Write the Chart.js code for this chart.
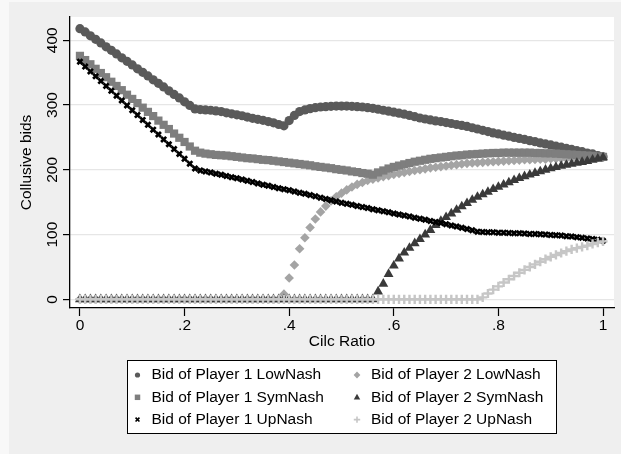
<!DOCTYPE html>
<html>
<head>
<meta charset="utf-8">
<script src="https://cdn.jsdelivr.net/npm/chart.js@4.4.1/dist/chart.umd.min.js"></script>
<style>
  body { margin: 0; background: #f8f8f8; }
  canvas { display: block; }
</style>
</head>
<body>
<canvas id="chart" width="621" height="454"></canvas>
<script>
// cilc ratio on the x axis
const ratio = [0, 0.01, 0.02, 0.03, 0.04, 0.05, 0.06, 0.07, 0.08, 0.09,
  0.1, 0.11, 0.12, 0.13, 0.14, 0.15, 0.16, 0.17, 0.18, 0.19,
  0.2, 0.21, 0.22, 0.23, 0.24, 0.25, 0.26, 0.27, 0.28, 0.29,
  0.3, 0.31, 0.32, 0.33, 0.34, 0.35, 0.36, 0.37, 0.38, 0.39,
  0.4, 0.41, 0.42, 0.43, 0.44, 0.45, 0.46, 0.47, 0.48, 0.49,
  0.5, 0.51, 0.52, 0.53, 0.54, 0.55, 0.56, 0.57, 0.58, 0.59,
  0.6, 0.61, 0.62, 0.63, 0.64, 0.65, 0.66, 0.67, 0.68, 0.69,
  0.7, 0.71, 0.72, 0.73, 0.74, 0.75, 0.76, 0.77, 0.78, 0.79,
  0.8, 0.81, 0.82, 0.83, 0.84, 0.85, 0.86, 0.87, 0.88, 0.89,
  0.9, 0.91, 0.92, 0.93, 0.94, 0.95, 0.96, 0.97, 0.98, 0.99, 1];

const p1Low = [418, 413, 407, 401.5, 396, 390, 384.5, 379, 373, 367.5,
  362, 356, 350.5, 345, 339, 333.5, 328, 322, 316.5, 311,
  305, 299.5, 294, 293, 292.5, 292, 291, 290, 288, 286.5,
  285, 283.5, 281.5, 279.5, 278, 276.5, 274.5, 272.5, 270, 268,
  276, 284, 290, 292.5, 294.5, 296, 297, 297.5, 298, 298.5,
  298.5, 298.5, 298, 297.5, 297, 296, 295, 293.5, 292, 290.5,
  289, 287.5, 286, 284, 282, 280, 278.5, 277, 275.5, 274.5,
  273, 271.5, 270, 268.5, 267, 265, 263, 261, 259, 257,
  255.5, 253.5, 252, 250, 248.5, 247, 245, 243.5, 241.5, 240,
  238.5, 236.5, 235, 233, 231.5, 229.5, 228, 226, 224.5, 222, 220];

const p2Low = [0, 0, 0, 0, 0, 0, 0, 0, 0, 0,
  0, 0, 0, 0, 0, 0, 0, 0, 0, 0,
  0, 0, 0, 0, 0, 0, 0, 0, 0, 0,
  0, 0, 0, 0, 0, 0, 0, 0, 0, 8,
  33, 53, 78, 95, 111, 124, 135, 144, 152, 158.5,
  164, 169, 173.5, 177.5, 180.5, 183.5, 185.5, 187.5, 189.5, 191,
  193, 194.5, 196, 197.5, 199, 200, 201.5, 203, 204, 205,
  206, 207, 208, 209, 210, 210.5, 211, 211.5, 212, 212.5,
  213, 213.5, 214, 214.5, 215, 215.5, 215.5, 216, 216.5, 216.5,
  217, 217, 217.5, 217.5, 218, 218, 218.5, 218.5, 219, 219, 219.5];

const p1Sym = [376, 369.5, 363, 356, 349.5, 343, 336, 329.5, 323, 316,
  309.5, 303, 296, 289.5, 283, 276, 269.5, 263, 256, 249.5,
  243, 236, 229.5, 226.5, 225, 224, 223, 222.5, 222, 221,
  220, 219, 218, 217.5, 216.5, 215.5, 215, 214, 213, 212,
  211, 210, 209, 208, 207, 205.5, 204.5, 203.5, 202.5, 201,
  200, 199, 197.5, 196.5, 195, 194, 192.5, 196, 199, 202,
  204.5, 206.5, 208.5, 210.5, 212.5, 214, 215.5, 217, 218, 219,
  220, 221, 222, 222.5, 223.5, 224, 224.5, 225, 225.5, 226,
  226, 226.5, 226.5, 226.5, 226.5, 226.5, 226.5, 226, 226, 225.5,
  225.5, 225, 224.5, 224, 223.5, 223, 222.5, 222, 221.5, 220.5, 220];

const p2Sym = [0, 0, 0, 0, 0, 0, 0, 0, 0, 0,
  0, 0, 0, 0, 0, 0, 0, 0, 0, 0,
  0, 0, 0, 0, 0, 0, 0, 0, 0, 0,
  0, 0, 0, 0, 0, 0, 0, 0, 0, 0,
  0, 0, 0, 0, 0, 0, 0, 0, 0, 0,
  0, 0, 0, 0, 0, 0, 0, 12, 24, 39,
  52, 63, 72, 79.5, 86.5, 93, 100, 107, 114.5, 121,
  127, 132.5, 138, 143.5, 148.5, 153.5, 158, 162, 166, 170,
  173.5, 177, 180.5, 184, 187, 190, 192.5, 195, 197.5, 200,
  202, 204, 206, 207.5, 209, 210.5, 212, 213.5, 215.5, 217, 219];

const p1Up = [367, 359.5, 352, 344.5, 337, 329.5, 322, 314.5, 307, 299.5,
  292, 284.5, 277, 269.5, 262, 254.5, 247, 239.5, 232, 224.5,
  217, 209.5, 202, 199, 197.5, 196, 194, 192.5, 190.5, 188.5,
  187, 185, 183, 181, 179, 177, 175.5, 173.5, 171.5, 170,
  168.5, 166.5, 164.5, 163, 161, 159, 157, 155, 153, 151,
  149, 147.5, 146, 144, 142.5, 141, 139, 137.5, 136, 134.5,
  132.5, 131, 129.5, 128, 126, 124.5, 123, 121, 119.5, 118,
  116, 114, 112.5, 110.5, 108.5, 106.5, 104.5, 104, 103.5, 103.5,
  103, 103, 102.5, 102, 102, 101.5, 101, 101, 100.5, 100,
  99.5, 99, 98.5, 97.5, 97, 96, 95, 94, 93, 92, 90.5];

const p2Up = [0, 0, 0, 0, 0, 0, 0, 0, 0, 0,
  0, 0, 0, 0, 0, 0, 0, 0, 0, 0,
  0, 0, 0, 0, 0, 0, 0, 0, 0, 0,
  0, 0, 0, 0, 0, 0, 0, 0, 0, 0,
  0, 0, 0, 0, 0, 0, 0, 0, 0, 0,
  0, 0, 0, 0, 0, 0, 0, 0, 0, 0,
  0, 0, 0, 0, 0, 0, 0, 0, 0, 0,
  0, 0, 0, 0, 0, 0, 0, 3, 9, 15,
  20, 26, 31, 36, 41, 45.5, 50, 54, 58, 62,
  65.5, 68.5, 71.5, 74.5, 77, 79, 81, 83, 85.5, 87.5, 89.5];

const xTicks = [0, 0.2, 0.4, 0.6, 0.8, 1];
const xTickLabels = ['0', '.2', '.4', '.6', '.8', '1'];
const yTicks = [0, 100, 200, 300, 400];

// stata legend order (row by row, two columns)
const names = ['Bid of Player 1 LowNash', 'Bid of Player 2 LowNash',
  'Bid of Player 1 SymNash', 'Bid of Player 2 SymNash',
  'Bid of Player 1 UpNash', 'Bid of Player 2 UpNash'];
const series = [p1Low, p2Low, p1Sym, p2Sym, p1Up, p2Up];
const styles = [
  { pointStyle: 'circle', color: '#5a5a5a', radius: 4.6, legendRadius: 2.6, borderWidth: 0 },
  { pointStyle: 'rectRot', color: '#a4a4a4', radius: 4.8, legendRadius: 3.4, borderWidth: 0 },
  { pointStyle: 'rect', color: '#7e7e7e', radius: 5.8, legendRadius: 3.8, borderWidth: 0 },
  { pointStyle: 'triangle', color: '#3a3a3a', radius: 5.7, legendRadius: 3.6, borderWidth: 0 },
  { pointStyle: 'crossRot', color: '#000000', radius: 3.6, legendRadius: 2.6, borderWidth: 2.7 },
  { pointStyle: 'cross', color: '#c6c6c6', radius: 4.6, legendRadius: 3.2, borderWidth: 2.4 }
];

const FONT = '"Liberation Sans", Arial, Helvetica, sans-serif';
const FONT_SIZE = 15.5;

function drawMarker(ctx, style, x, y, r, color, lw) {
  ctx.fillStyle = color;
  ctx.strokeStyle = color;
  ctx.lineWidth = lw;
  ctx.beginPath();
  if (style === 'circle') {
    ctx.arc(x, y, r, 0, Math.PI * 2);
    ctx.fill();
  } else if (style === 'rect') {
    ctx.rect(x - r * 0.72, y - r * 0.72, r * 1.44, r * 1.44);
    ctx.fill();
  } else if (style === 'rectRot') {
    ctx.moveTo(x, y - r); ctx.lineTo(x + r, y); ctx.lineTo(x, y + r); ctx.lineTo(x - r, y);
    ctx.closePath();
    ctx.fill();
  } else if (style === 'triangle') {
    ctx.moveTo(x, y - r); ctx.lineTo(x + r * 0.9, y + r * 0.6); ctx.lineTo(x - r * 0.9, y + r * 0.6);
    ctx.closePath();
    ctx.fill();
  } else if (style === 'crossRot') {
    const d = r * 0.75;
    ctx.moveTo(x - d, y - d); ctx.lineTo(x + d, y + d);
    ctx.moveTo(x + d, y - d); ctx.lineTo(x - d, y + d);
    ctx.stroke();
  } else {
    ctx.moveTo(x - r, y); ctx.lineTo(x + r, y);
    ctx.moveTo(x, y - r); ctx.lineTo(x, y + r);
    ctx.stroke();
  }
}

const backgroundPlugin = {
  id: 'background',
  beforeDraw(chart) {
    const ctx = chart.ctx;
    const area = chart.chartArea;
    ctx.save();
    ctx.fillStyle = '#f8f8f8';
    ctx.fillRect(0, 0, chart.width, chart.height);
    ctx.fillStyle = '#efefef';
    ctx.fillRect(9, 2, chart.width - 9, chart.height - 2);
    ctx.fillStyle = '#ffffff';
    ctx.fillRect(area.left, area.top, area.right - area.left, area.bottom - area.top);
    ctx.restore();
  }
};

const legendPlugin = {
  id: 'stataLegend',
  afterDraw(chart) {
    const ctx = chart.ctx;
    ctx.save();
    ctx.fillStyle = '#ffffff';
    ctx.fillRect(127, 360, 429, 73);
    ctx.strokeStyle = '#000';
    ctx.lineWidth = 1;
    ctx.strokeRect(127.5, 360.5, 429, 73);
    ctx.font = FONT_SIZE + 'px ' + FONT;
    ctx.textBaseline = 'middle';
    ctx.textAlign = 'left';
    for (let i = 0; i < names.length; i++) {
      const col = i % 2;
      const row = Math.floor(i / 2);
      const mx = col === 0 ? 137.5 : 357;
      const y = 375 + row * 22.3;
      const s = styles[i];
      drawMarker(ctx, s.pointStyle, mx, y, s.legendRadius, s.color, s.borderWidth ? 1.6 : 0);
      ctx.fillStyle = '#000';
      ctx.fillText(names[i], mx + 14, y);
    }
    ctx.restore();
  }
};

const datasets = series.map((values, i) => {
  const s = styles[i];
  return {
    label: names[i],
    data: values.map((v, j) => ({ x: ratio[j], y: v })),
    pointStyle: s.pointStyle,
    pointRadius: s.radius,
    backgroundColor: s.color,
    borderColor: s.color,
    borderWidth: s.borderWidth,
    showLine: false,
    order: names.length - i
  };
});

const chart = new Chart(document.getElementById('chart'), {
  type: 'scatter',
  data: { datasets: datasets },
  options: {
    responsive: false,
    animation: false,
    devicePixelRatio: 1,
    layout: { padding: { left: 0, top: 17, right: 5, bottom: 102 } },
    plugins: {
      legend: { display: false },
      tooltip: { enabled: false }
    },
    scales: {
      x: {
        type: 'linear',
        min: -0.019,
        max: 1.021,
        afterFit: (scale) => { scale.height = 44; },
        afterBuildTicks: (scale) => { scale.ticks = xTicks.map(v => ({ value: v })); },
        grid: { drawOnChartArea: false, drawTicks: true, tickLength: 8, tickColor: '#000', tickWidth: 1.2 },
        border: { display: true, color: '#000', width: 1.3 },
        ticks: {
          color: '#000',
          font: { family: FONT, size: FONT_SIZE },
          padding: 0,
          maxRotation: 0,
          callback: (value) => xTickLabels[xTicks.indexOf(value)]
        },
        title: {
          display: true,
          text: 'Cilc Ratio',
          color: '#000',
          font: { family: FONT, size: FONT_SIZE },
          padding: { top: 0, bottom: 1 }
        }
      },
      y: {
        type: 'linear',
        min: -13.4,
        max: 436,
        afterFit: (scale) => { scale.width = 70; },
        afterBuildTicks: (scale) => { scale.ticks = yTicks.map(v => ({ value: v })); },
        grid: { color: '#e6e6e6', lineWidth: 1.2, tickLength: 7, tickColor: '#000', tickWidth: 1.2 },
        border: { display: true, color: '#000', width: 1.3 },
        ticks: {
          color: '#000',
          font: { family: FONT, size: FONT_SIZE },
          minRotation: 90,
          maxRotation: 90,
          crossAlign: 'center',
          padding: -3
        },
        title: {
          display: true,
          text: 'Collusive bids',
          color: '#000',
          font: { family: FONT, size: FONT_SIZE },
          padding: { top: 17, bottom: 0 }
        }
      }
    }
  },
  plugins: [backgroundPlugin, legendPlugin]
});
</script>
</body>
</html>
